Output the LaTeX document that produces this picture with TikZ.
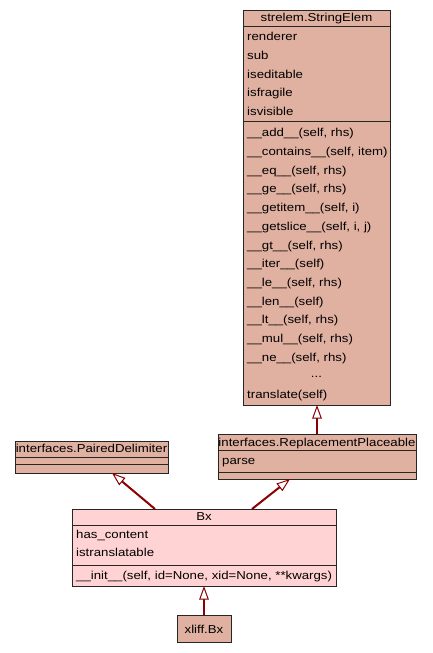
\documentclass[tikz,border=0pt]{standalone}
\usepackage{fontspec}
\setmainfont{Liberation Sans}[FakeStretch=1.15]
\usetikzlibrary{arrows.meta,calc}
\definecolor{clsfill}{RGB}{224,176,160}
\definecolor{bxfill}{RGB}{255,211,211}
\definecolor{edgecol}{RGB}{139,0,0}
\begin{document}
\begin{tikzpicture}[x=1pt,y=-1pt,
  box/.style={draw=black!85, line width=1pt, fill=clsfill, anchor=north west, inner sep=0pt, outer sep=0pt},
  sep/.style={draw=black!85, line width=1pt},
  txt/.style={anchor=base west, inner sep=0pt, font=\fontsize{11.5}{13}\selectfont},
  ttl/.style={anchor=base, inner sep=0pt, font=\fontsize{11.5}{13}\selectfont},
  inh/.style={draw=edgecol, line width=2pt, -{Triangle[fill=white, length=13.5pt, width=9.5pt, line width=1pt]}},
]
\useasboundingbox (0,0) rectangle (432,653);

% strelem.StringElem
\node[box, minimum width=147pt, minimum height=395pt] (se) at (243,10) {};
\draw[sep] (243,26) -- (390,26);
\draw[sep] (243,121) -- (390,121);
\node[ttl] (setitle) at (316.5,21.8) {strelem.StringElem};
\foreach \t [count=\i from 0] in {renderer,sub,iseditable,isfragile,isvisible}
  \node[txt] (sea\i) at (247,40.8+18.7*\i) {\t};
\foreach \t [count=\i from 0] in {
  \_\_add\_\_(self{,} rhs),
  \_\_contains\_\_(self{,} item),
  \_\_eq\_\_(self{,} rhs),
  \_\_ge\_\_(self{,} rhs),
  \_\_getitem\_\_(self{,} i),
  \_\_getslice\_\_(self{,} i{,} j),
  \_\_gt\_\_(self{,} rhs),
  \_\_iter\_\_(self),
  \_\_le\_\_(self{,} rhs),
  \_\_len\_\_(self),
  \_\_lt\_\_(self{,} rhs),
  \_\_mul\_\_(self{,} rhs),
  \_\_ne\_\_(self{,} rhs)}
  \node[txt] (sem\i) at (247,136.8+18.7*\i) {\t};
\node[ttl] (sedots) at (316.5,377) {...};
\node[txt] (setr) at (247,398.5) {translate(self)};

% interfaces.PairedDelimiter
\node[box, minimum width=153pt, minimum height=32pt] (pd) at (15,441) {};
\draw[sep] (15,457) -- (168,457);
\draw[sep] (15,464) -- (168,464);
\node[ttl] (pdtitle) at (91.5,452.5) {interfaces.PairedDelimiter};

% interfaces.ReplacementPlaceable
\node[box, minimum width=198pt, minimum height=45pt] (rp) at (218,434) {};
\draw[sep] (218,450) -- (416,450);
\draw[sep] (218,472) -- (416,472);
\node[ttl] (rptitle) at (317,446) {interfaces.ReplacementPlaceable};
\node[txt] (rpa) at (222,464.5) {parse};

% Bx
\node[box, fill=bxfill, minimum width=264pt, minimum height=77pt] (bx) at (72,509) {};
\draw[sep] (72,525) -- (336,525);
\draw[sep] (72,565) -- (336,565);
\node[ttl] (bxtitle) at (204,520.5) {Bx};
\node[txt] (bxa1) at (76,538.5) {has\_content};
\node[txt] (bxa2) at (76,556.5) {istranslatable};
\node[txt] (bxm1) at (76,579.5) {\_\_init\_\_(self, id=None, xid=None, **kwargs)};

% xliff.Bx
\node[box, minimum width=54pt, minimum height=27pt] (xb) at (177,615) {};
\node[ttl] (xbtitle) at (204,633) {xliff.Bx};

% inheritance edges
\draw[inh] ([xshift=-49pt]bx.north) -- ([xshift=20.5pt]pd.south);
\draw[inh] ([xshift=48pt]bx.north) -- ([xshift=-27pt]rp.south);
\draw[inh] (rp.north) -- (rp.north |- se.south);
\draw[inh] (xb.north) -- (xb.north |- bx.south);
\end{tikzpicture}
\end{document}
